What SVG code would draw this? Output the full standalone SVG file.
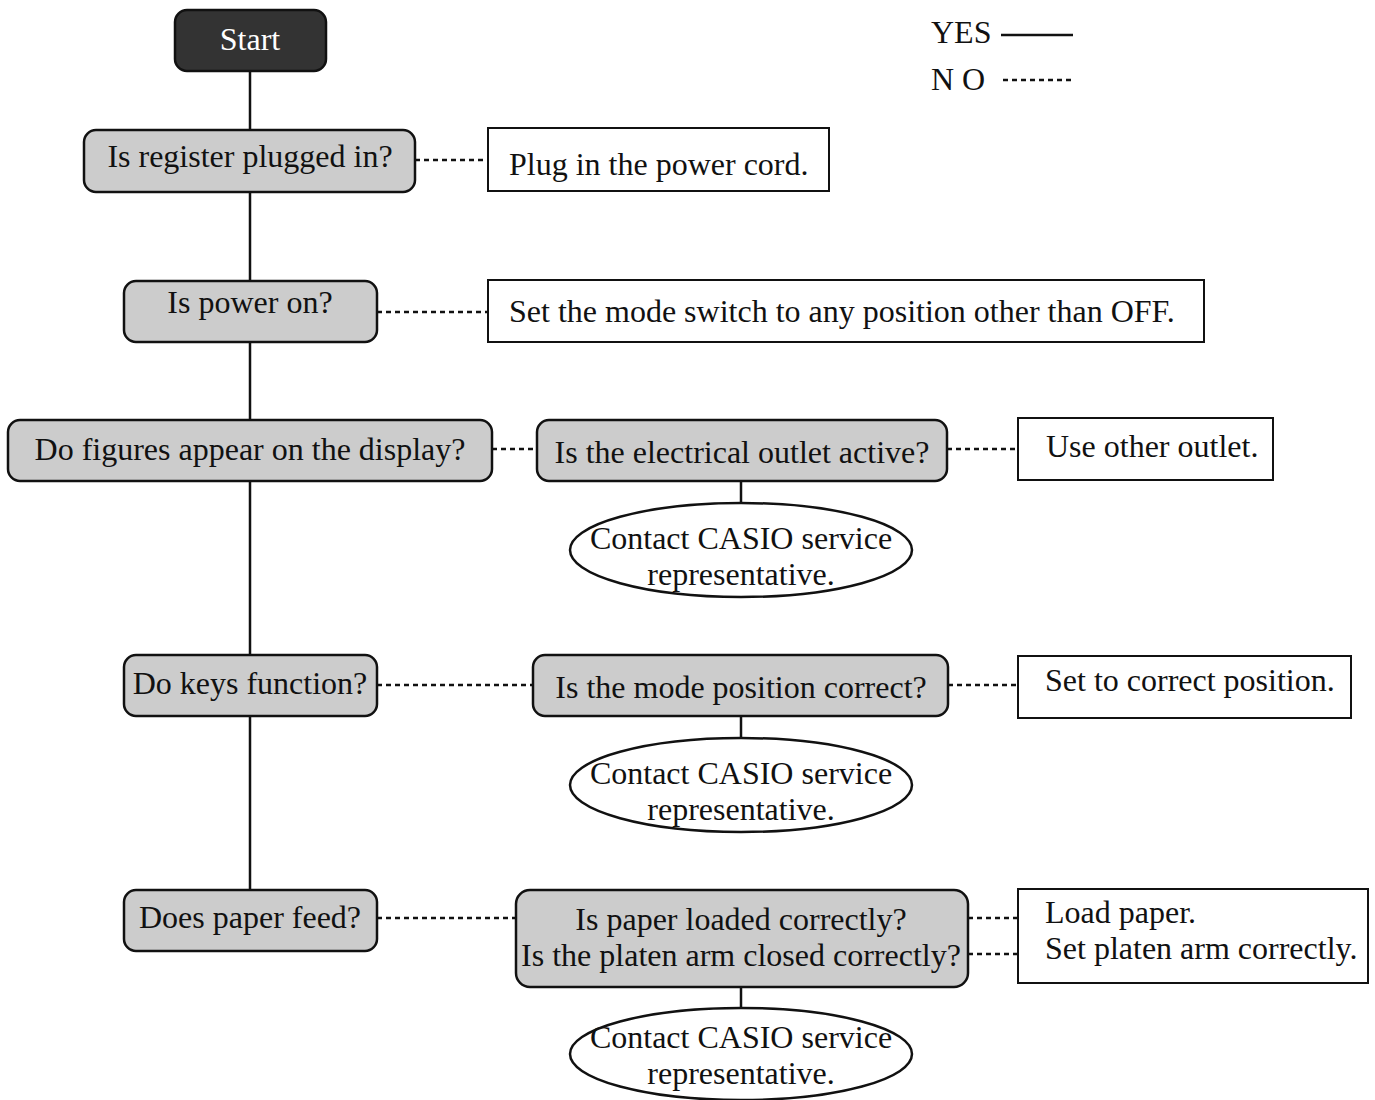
<svg xmlns="http://www.w3.org/2000/svg" width="1375" height="1100" viewBox="0 0 1375 1100">
<style>
text{font-family:"Liberation Serif","Times New Roman",serif;font-size:32px;fill:#111}
.q{fill:#cccccc;stroke:#111;stroke-width:2.5}
.a{fill:#fff;stroke:#111;stroke-width:2}
.e{fill:#fff;stroke:#111;stroke-width:2.5}
.c{text-anchor:middle}
.yes{stroke:#111;stroke-width:2.5;fill:none}
.no{stroke:#111;stroke-width:2.5;fill:none;stroke-dasharray:5 4}
</style>
<rect width="1375" height="1100" fill="#fff"/>
<g id="connectors">
<line class="yes" x1="250" y1="71" x2="250" y2="890"/>
<line class="no" x1="415" y1="160" x2="488" y2="160"/>
<line class="no" x1="377" y1="312" x2="488" y2="312"/>
<line class="no" x1="492" y1="449" x2="537" y2="449"/>
<line class="no" x1="947" y1="449" x2="1018" y2="449"/>
<line class="yes" x1="741" y1="481" x2="741" y2="503"/>
<line class="no" x1="377" y1="685" x2="533" y2="685"/>
<line class="no" x1="948" y1="685" x2="1018" y2="685"/>
<line class="yes" x1="741" y1="716" x2="741" y2="738"/>
<line class="no" x1="377" y1="918" x2="516" y2="918"/>
<line class="no" x1="968" y1="918" x2="1018" y2="918"/>
<line class="no" x1="968" y1="954" x2="1018" y2="954"/>
<line class="yes" x1="741" y1="987" x2="741" y2="1008"/>
</g>
<g id="legend">
<text x="931" y="43">YES</text>
<line class="yes" x1="1001" y1="35" x2="1073" y2="35"/>
<text x="931" y="90">N O</text>
<line class="no" x1="1003" y1="80" x2="1073" y2="80"/>
</g>
<g id="start">
<rect x="175" y="10" width="151" height="61" rx="12" fill="#333" stroke="#111" stroke-width="2.5"/>
<text x="250" y="50" class="c" style="fill:#fff">Start</text>
</g>
<g id="q1">
<rect class="q" x="84" y="130" width="331" height="62" rx="12"/>
<text x="250" y="167" class="c">Is register plugged in?</text>
</g>
<g id="a1">
<rect class="a" x="488" y="128" width="341" height="63"/>
<text x="509" y="175">Plug in the power cord.</text>
</g>
<g id="q2">
<rect class="q" x="124" y="281" width="253" height="61" rx="12"/>
<text x="250" y="313" class="c">Is power on?</text>
</g>
<g id="a2">
<rect class="a" x="488" y="280" width="716" height="62"/>
<text x="509" y="322">Set the mode switch to any position other than OFF.</text>
</g>
<g id="q3">
<rect class="q" x="8" y="420" width="484" height="61" rx="12"/>
<text x="250" y="460" class="c">Do figures appear on the display?</text>
</g>
<g id="q3b">
<rect class="q" x="537" y="420" width="410" height="61" rx="12"/>
<text x="742" y="463" class="c">Is the electrical outlet active?</text>
</g>
<g id="a3">
<rect class="a" x="1018" y="418" width="255" height="62"/>
<text x="1046" y="457">Use other outlet.</text>
</g>
<g id="e1">
<ellipse class="e" cx="741" cy="550" rx="171" ry="47"/>
<text class="c"><tspan x="741" y="549">Contact CASIO service</tspan><tspan x="741" y="585">representative.</tspan></text>
</g>
<g id="q4">
<rect class="q" x="124" y="655" width="253" height="61" rx="12"/>
<text x="250" y="694" class="c">Do keys function?</text>
</g>
<g id="q4b">
<rect class="q" x="533" y="655" width="415" height="61" rx="12"/>
<text x="741" y="698" class="c">Is the mode position correct?</text>
</g>
<g id="a4">
<rect class="a" x="1018" y="656" width="333" height="62"/>
<text x="1045" y="691">Set to correct position.</text>
</g>
<g id="e2">
<ellipse class="e" cx="741" cy="785" rx="171" ry="47"/>
<text class="c"><tspan x="741" y="784">Contact CASIO service</tspan><tspan x="741" y="820">representative.</tspan></text>
</g>
<g id="q5">
<rect class="q" x="124" y="890" width="253" height="61" rx="12"/>
<text x="250" y="928" class="c">Does paper feed?</text>
</g>
<g id="q5b">
<rect class="q" x="516" y="890" width="452" height="97" rx="14"/>
<text class="c"><tspan x="741" y="930">Is paper loaded correctly?</tspan><tspan x="741" y="966">Is the platen arm closed correctly?</tspan></text>
</g>
<g id="a5">
<rect class="a" x="1018" y="889" width="350" height="94"/>
<text><tspan x="1045" y="923">Load paper.</tspan><tspan x="1045" y="959">Set platen arm correctly.</tspan></text>
</g>
<g id="e3">
<ellipse class="e" cx="741" cy="1054" rx="171" ry="46"/>
<text class="c"><tspan x="741" y="1048">Contact CASIO service</tspan><tspan x="741" y="1084">representative.</tspan></text>
</g>
</svg>
